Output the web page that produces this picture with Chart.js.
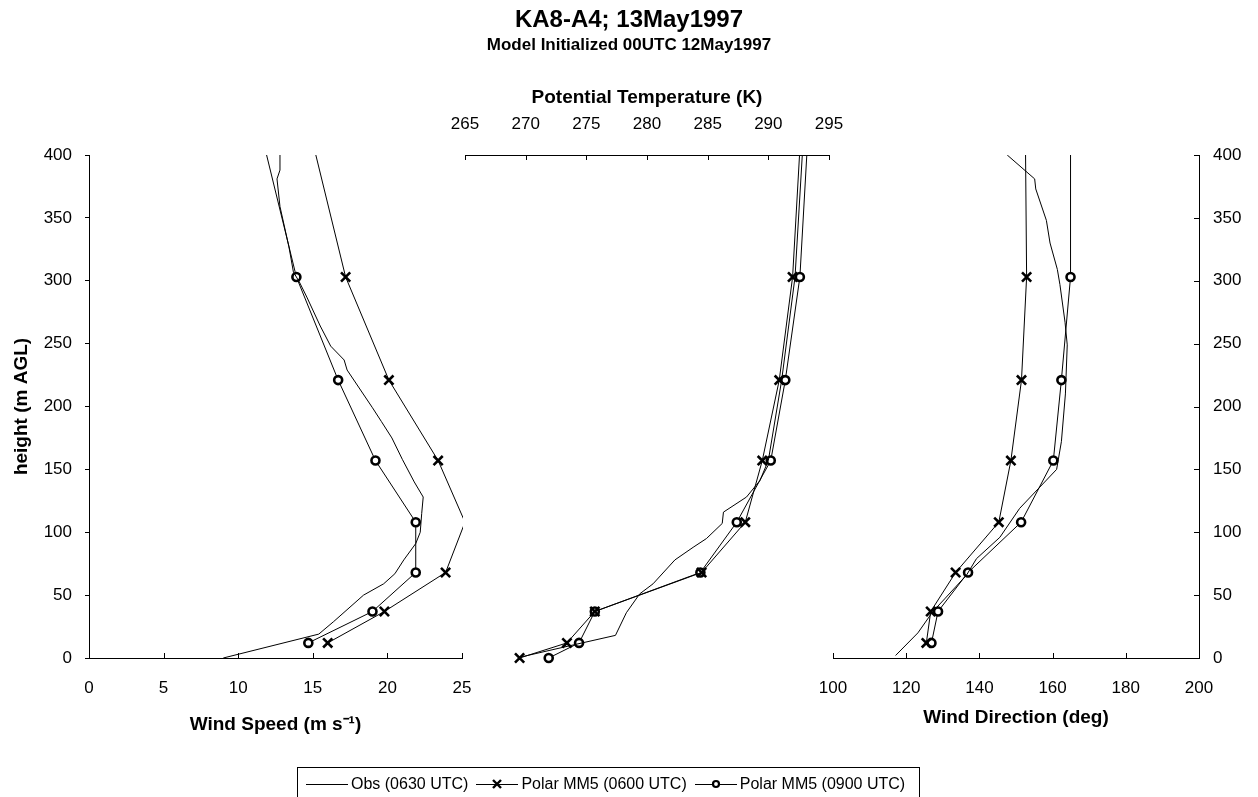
<!DOCTYPE html>
<html><head><meta charset="utf-8">
<script src="https://cdn.jsdelivr.net/npm/chart.js@4.4.1/dist/chart.umd.min.js"></script>
<style>
html,body{margin:0;padding:0;background:#fff;width:1258px;height:797px;overflow:hidden;font-family:"Liberation Sans",Arial,sans-serif;color:#000;}
.layer{position:absolute;left:0;top:0;width:1258px;height:797px;}
#title{position:absolute;left:0;width:1258px;top:4px;height:30px;line-height:30px;text-align:center;font-weight:bold;font-size:24px;}
#subtitle{position:absolute;left:0;width:1258px;top:34px;height:22px;line-height:22px;text-align:center;font-weight:bold;font-size:17px;}
#legend{position:absolute;left:297px;top:767px;height:40px;border:1px solid #000;display:flex;align-items:flex-start;padding:0 6px 0 8px;box-sizing:border-box;white-space:nowrap;}
#legend .it{display:flex;align-items:center;height:32px;margin-right:8px;font-size:16px;}
#legend svg{margin-right:3px;}
</style></head>
<body>
<div class="layer"><canvas id="cSpeed" width="1258" height="797"></canvas></div>
<div class="layer"><canvas id="cTheta" width="1258" height="797"></canvas></div>
<div class="layer"><canvas id="cDir" width="1258" height="797"></canvas></div>
<div id="title">KA8-A4; 13May1997</div>
<div id="subtitle">Model Initialized 00UTC 12May1997</div>
<div id="legend"></div>
<script>
// ---------------- data ----------------
const seriesNames = ['Obs (0630 UTC)', 'Polar MM5 (0600 UTC)', 'Polar MM5 (0900 UTC)'];

// model levels (m AGL); last level lies just above the 400 m plot top
const modelHeights = [12, 37, 68, 108, 157, 221, 303, 405];

// Wind speed (m/s)
const speedMM5_06 = [16.0, 19.8, 23.9, 25.2, 23.4, 20.1, 17.2, 15.1];
const speedMM5_09 = [14.7, 19.0, 21.9, 21.9, 19.2, 16.7, 13.9, 11.8];
const speedObsHeights = [0, 19, 29, 50, 59, 67, 78, 91, 100, 115, 128, 140, 158, 175, 188, 199, 229, 237, 248, 264, 287, 299, 307, 327, 359, 381, 388, 400];
const speedObs = [9.0, 15.4, 16.4, 18.4, 19.75, 20.5, 21.1, 21.9, 22.2, 22.3, 22.4, 21.8, 21.0, 20.3, 19.6, 19.0, 17.3, 17.1, 16.2, 15.5, 14.6, 14.1, 13.7, 13.4, 12.8, 12.6, 12.8, 12.8];

// Potential temperature (K); includes a surface level
const thetaHeights = [0, 12, 37, 68, 108, 157, 221, 303, 405];
const thetaMM5_06 = [269.5, 273.4, 275.7, 284.5, 288.1, 289.5, 290.9, 292.0, 292.6];
const thetaMM5_09 = [271.9, 274.4, 275.7, 284.4, 287.4, 290.2, 291.4, 292.6, 293.2];
const thetaObsHeights = [1, 11, 18, 36, 51, 59, 78, 88, 95, 107, 116, 128, 141, 157, 221, 303, 400];
const thetaObs = [269.7, 274.2, 277.4, 278.3, 279.4, 280.5, 282.3, 283.8, 284.9, 286.2, 286.3, 288.2, 289.3, 290.0, 291.1, 292.2, 292.8];

// Wind direction (deg)
const dirMM5_06 = [125.5, 126.7, 133.5, 145.3, 148.6, 151.5, 152.9, 152.6];
const dirMM5_09 = [126.9, 128.7, 136.9, 151.4, 160.2, 162.4, 164.9, 164.9];
const dirObsHeights = [2, 20, 37, 47, 66, 79, 96, 119, 150, 172, 210, 249, 267, 297, 309, 330, 348, 373, 381, 400];
const dirObs = [117.1, 123.2, 127.3, 130.5, 136.5, 139.2, 145.6, 151.0, 161.1, 162.4, 163.5, 164.0, 163.4, 162.0, 161.3, 159.3, 158.3, 155.4, 155.1, 147.6];

// axis ticks
const heightTicks = {min: 0, max: 400, step: 50};
const speedTicks = {min: 0, max: 25, step: 5};
const thetaTicks = {min: 265, max: 295, step: 5};
const dirTicks = {min: 100, max: 200, step: 20};

// ---------------- helpers ----------------
const FONT = '"Liberation Sans", Arial, sans-serif';
const pts = (xs, hs) => xs.map((v, i) => ({x: v, y: hs[i]}));

function inRange(ctx, xr) {
  const r = ctx.raw;
  if (!r) return true;
  return r.y <= heightTicks.max && r.x <= xr.max && r.x >= xr.min;
}

function makeDatasets(obsX, obsH, m06, m09, mH, xr, clip) {
  return [
    {label: seriesNames[0], data: pts(obsX, obsH), showLine: true, borderColor: '#000', borderWidth: 1,
     pointRadius: 0, clip},
    {label: seriesNames[1], data: pts(m06, mH), showLine: true, borderColor: '#000', borderWidth: 1,
     pointStyle: 'crossRot', pointRadius: c => inRange(c, xr) ? 6.5 : 0, pointBorderWidth: 2.6,
     pointBorderColor: '#000', pointBackgroundColor: '#000', clip},
    {label: seriesNames[2], data: pts(m09, mH), showLine: true, borderColor: '#000', borderWidth: 1,
     pointStyle: 'circle', pointRadius: c => inRange(c, xr) ? 4 : 0, pointBorderWidth: 2.6,
     pointBorderColor: '#000', pointBackgroundColor: '#fff', clip}
  ];
}

const innerTicks = {
  id: 'innerTicks',
  afterDraw(chart, args, opts) {
    const ctx = chart.ctx, L = opts.len || 5;
    ctx.save(); ctx.strokeStyle = '#000'; ctx.lineWidth = 1;
    (opts.axes || []).forEach(id => {
      const s = chart.scales[id];
      s.ticks.forEach((t, i) => {
        const p = Math.round(s.getPixelForTick(i)) + 0.5;
        ctx.beginPath();
        if (s.position === 'bottom') { ctx.moveTo(p, s.top); ctx.lineTo(p, s.top - L); }
        else if (s.position === 'top') { ctx.moveTo(p, s.bottom); ctx.lineTo(p, s.bottom + L); }
        else if (s.position === 'right') { ctx.moveTo(s.left, p); ctx.lineTo(s.left - L, p); }
        ctx.stroke();
      });
    });
    ctx.restore();
  }
};

const tickFont = {family: FONT, size: 17};
const titleFont = {family: FONT, size: 19, weight: 'bold'};
const border = {display: true, color: '#000', width: 1};
const noGridTicks = {display: true, drawOnChartArea: false, drawTicks: false, color: '#000'};
const common = {
  responsive: false, animation: false, devicePixelRatio: 1,
  plugins: {legend: {display: false}, tooltip: {enabled: false}},
};

// ---------------- Wind speed panel ----------------
new Chart(document.getElementById('cSpeed'), {
  type: 'scatter',
  data: {datasets: makeDatasets(speedObs, speedObsHeights, speedMM5_06, speedMM5_09, modelHeights, speedTicks,
        {left: 2, top: 0, right: 1, bottom: 3})},
  options: Object.assign({}, common, {
    layout: {padding: {left: 0, top: 155, right: 796, bottom: 60.6}},
    plugins: Object.assign({}, common.plugins, {innerTicks: {axes: ['x'], len: 5}}),
    scales: {
      x: {type: 'linear', position: 'bottom', min: speedTicks.min, max: speedTicks.max,
          ticks: {stepSize: speedTicks.step, color: '#000', font: tickFont, padding: 20, maxRotation: 0},
          grid: noGridTicks, border,
          title: {display: true, text: 'Wind Speed (m s\u207B\u00B9)', color: '#000', font: titleFont, padding: {top: 0, bottom: 0}},
          afterFit: s => { s.height = 78.4; }},
      y: {type: 'linear', position: 'left', min: heightTicks.min, max: heightTicks.max,
          ticks: {stepSize: heightTicks.step, color: '#000', font: tickFont, padding: 13},
          grid: {display: true, drawOnChartArea: false, drawTicks: true, tickLength: 4, color: '#000'}, border,
          title: {display: true, text: 'height (m AGL)', color: '#000', font: titleFont, padding: {top: 10.6, bottom: 0}},
          afterFit: s => { s.width = 89; }}
    }
  }),
  plugins: [innerTicks]
});

// ---------------- Potential temperature panel ----------------
new Chart(document.getElementById('cTheta'), {
  type: 'scatter',
  data: {datasets: makeDatasets(thetaObs, thetaObsHeights, thetaMM5_06, thetaMM5_09, thetaHeights, thetaTicks,
        {left: 10, top: 0, right: 10, bottom: 10})},
  options: Object.assign({}, common, {
    layout: {padding: {left: 465, top: 0, right: 429, bottom: 139}},
    plugins: Object.assign({}, common.plugins, {innerTicks: {axes: ['x'], len: 5}}),
    scales: {
      x: {type: 'linear', position: 'top', min: thetaTicks.min, max: thetaTicks.max,
          ticks: {stepSize: thetaTicks.step, color: '#000', font: tickFont, padding: 20.8, maxRotation: 0},
          grid: noGridTicks, border,
          title: {display: true, text: 'Potential Temperature (K)', color: '#000', font: titleFont, padding: {top: 86.6, bottom: 0}},
          afterFit: s => { s.height = 155; }},
      y: {type: 'linear', display: false, min: heightTicks.min, max: heightTicks.max}
    }
  }),
  plugins: [innerTicks]
});

// ---------------- Wind direction panel ----------------
new Chart(document.getElementById('cDir'), {
  type: 'scatter',
  data: {datasets: makeDatasets(dirObs, dirObsHeights, dirMM5_06, dirMM5_09, modelHeights, dirTicks,
        {left: 2, top: 0, right: 2, bottom: 3})},
  options: Object.assign({}, common, {
    layout: {padding: {left: 833, top: 155, right: 0, bottom: 67.6}},
    plugins: Object.assign({}, common.plugins, {innerTicks: {axes: ['x', 'y'], len: 5}}),
    scales: {
      x: {type: 'linear', position: 'bottom', min: dirTicks.min, max: dirTicks.max,
          ticks: {stepSize: dirTicks.step, color: '#000', font: tickFont, padding: 19.8, maxRotation: 0},
          grid: noGridTicks, border,
          title: {display: true, text: 'Wind Direction (deg)', color: '#000', font: titleFont, padding: {top: 0, bottom: 0}},
          afterFit: s => { s.height = 71.4; }},
      y: {type: 'linear', position: 'right', min: heightTicks.min, max: heightTicks.max,
          ticks: {stepSize: heightTicks.step, color: '#000', font: tickFont, padding: 14},
          grid: noGridTicks, border,
          afterFit: s => { s.width = 59; }}
    }
  }),
  plugins: [innerTicks]
});

// ---------------- legend (HTML) ----------------
const legendSymbols = ['none', 'cross', 'circle'];
const lg = document.getElementById('legend');
seriesNames.forEach((name, i) => {
  const it = document.createElement('div'); it.className = 'it';
  let mark = '';
  if (legendSymbols[i] === 'cross') mark = '<path d="M17 3 L25 11 M25 3 L17 11" stroke="#000" stroke-width="2.4"/>';
  if (legendSymbols[i] === 'circle') mark = '<circle cx="21" cy="7" r="3" fill="#fff" stroke="#000" stroke-width="2.2"/>';
  it.innerHTML = '<svg width="42" height="14" viewBox="0 0 42 14"><line x1="0" y1="7.5" x2="42" y2="7.5" stroke="#000" stroke-width="1"/>' + mark + '</svg><span>' + name + '</span>';
  lg.appendChild(it);
});
</script>
</body></html>
